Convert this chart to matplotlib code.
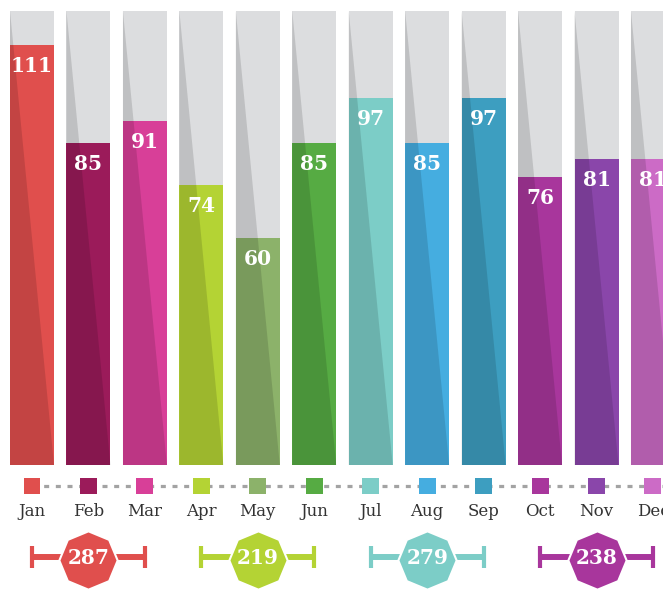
import matplotlib
matplotlib.use("Agg")
import matplotlib.pyplot as plt
from matplotlib.patches import Polygon
import numpy as np

plt.rcParams['lines.scale_dashes'] = False

months = ["Jan", "Feb", "Mar", "Apr", "May", "Jun",
          "Jul", "Aug", "Sep", "Oct", "Nov", "Dec"]
values = [111, 85, 91, 74, 60, 85, 97, 85, 97, 76, 81, 81]
colors = ["#e04f4d", "#9b1b5a", "#d83f98", "#b4d334", "#8cb26a", "#56ab43",
          "#7ccdc7", "#45ade0", "#3d9ec0", "#a8369c", "#8a46aa", "#cc6bc6"]
quarter_totals = [287, 219, 279, 238]
quarter_colors = ["#e04f4d", "#b4d334", "#7ccdc7", "#a8369c"]
y_max = 120

W, H = 663, 589
fig = plt.figure(figsize=(W / 100, H / 100), dpi=100)

step = 56.45
x0 = 32.0
xlim = (-x0 / step, (W - x0) / step)
bw = 44 / step

# main bar axes: pixel y 11 (top) to 465 (bottom)
ax = fig.add_axes([0, (H - 465) / H, 1, (465 - 11) / H])
ax.set_xlim(*xlim)
ax.set_ylim(0, y_max)
ax.axis("off")

x = np.arange(len(months))
ax.bar(x, [y_max] * len(x), width=bw, color="#dcdddf", zorder=1)
ax.bar(x, values, width=bw, color=colors, zorder=2)
for xi in x:
    l, r = xi - bw / 2, xi + bw / 2
    ax.add_patch(Polygon([(l, y_max), (r, 0), (l, 0)], closed=True,
                         facecolor="black", alpha=0.13, lw=0, zorder=3))
for xi, v in zip(x, values):
    ax.annotate(str(v), (xi, v), xytext=(0, -21), textcoords="offset pixels",
                ha="center", va="center", color="white", fontsize=14.5,
                fontweight="bold", family="DejaVu Serif", zorder=5)

# bottom axes: pixel y 465 to 589, y in pixels from top
ax2 = fig.add_axes([0, 0, 1, (H - 465) / H])
ax2.set_xlim(*xlim)
ax2.set_ylim(H - 465, 0)
ax2.axis("off")

line, = ax2.plot([0, xlim[1] + 1], [21, 21], color="#a3a3a3", lw=2.3, zorder=1)
line.set_dashes((3.6, 4.8))
ax2.scatter(x, [21] * len(x), marker="s", s=12.2 ** 2, c=colors,
            linewidths=0, zorder=2)
for xi, m in zip(x, months):
    ax2.text(xi, 46, m, ha="center", va="center", fontsize=12,
             family="DejaVu Serif", color="#333333")

for q, (tot, col) in enumerate(zip(quarter_totals, quarter_colors)):
    a, b = 3 * q, 3 * q + 2
    mid = (a + b) / 2
    ax2.plot([a, b], [92, 92], color=col, lw=4.3, solid_capstyle="butt", zorder=1)
    ax2.plot([a, b], [92, 92], color=col, lw=0, marker="|", markersize=16.5,
             mew=3, zorder=1)
    ax2.plot([mid], [95], marker=(8, 0, 0), markersize=42, color=col,
             mec="white", mew=1.5, zorder=2)
    ax2.text(mid, 92.5, str(tot), ha="center", va="center", color="white",
             fontsize=14.5, fontweight="bold", family="DejaVu Serif", zorder=3)

fig.savefig("out.png", dpi=100)
